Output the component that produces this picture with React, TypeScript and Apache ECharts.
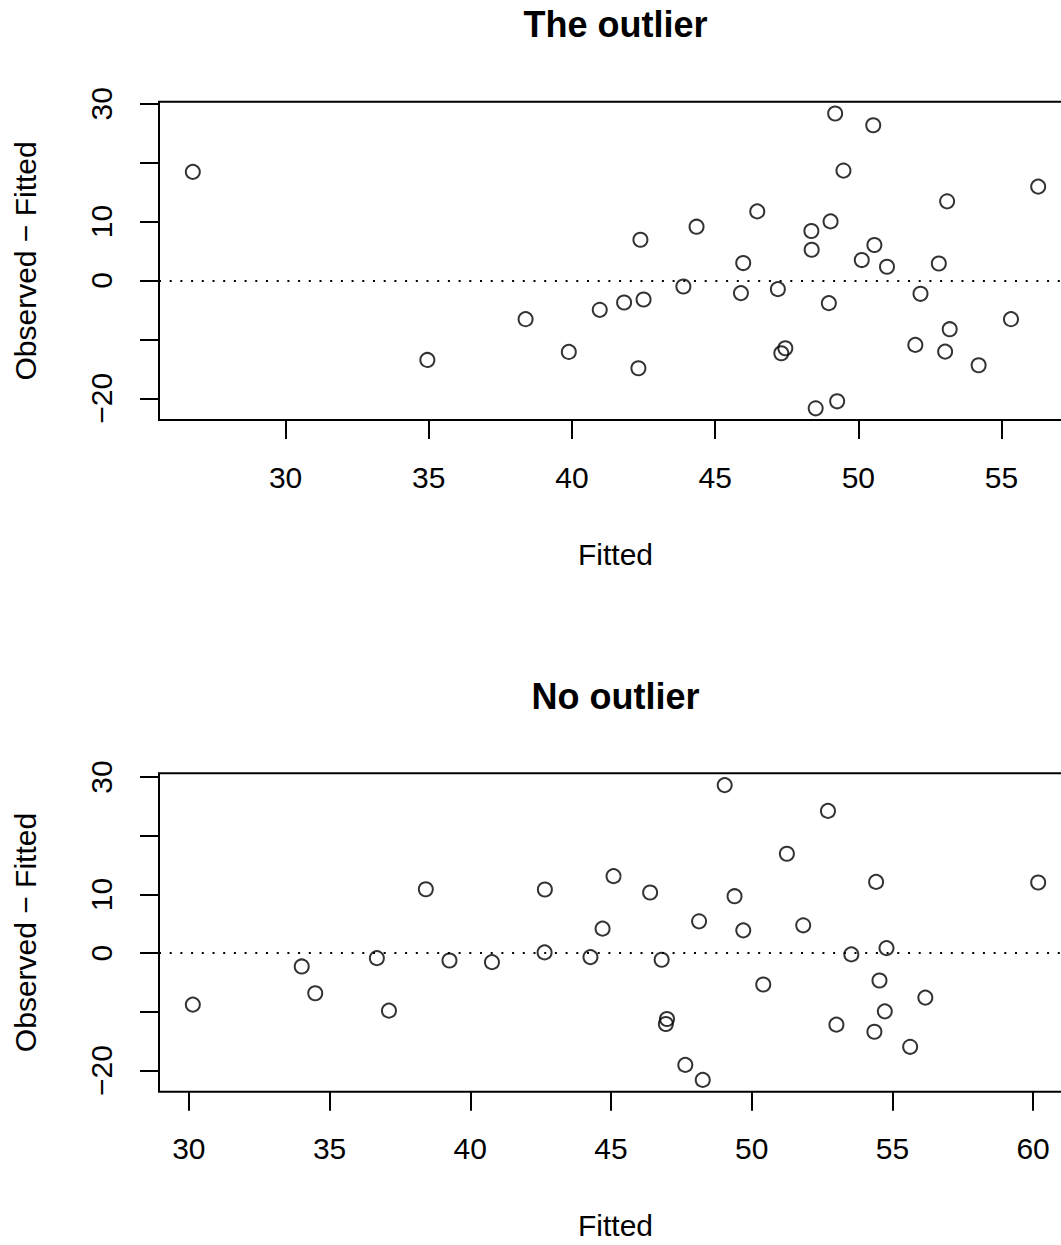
import React, { useEffect, useRef } from "react";
import * as echarts from "echarts";

// Residuals vs fitted values, model fitted with the outlier included
const outlierFitted = [
  26.76, 34.95, 38.38, 39.89, 40.97, 41.82, 42.5, 42.39, 42.32, 43.89, 44.35,
  45.9, 45.98, 46.47, 47.19, 47.31, 47.45, 48.36, 48.37, 48.51, 48.97, 49.03,
  49.19, 49.26, 49.48, 50.12, 50.52, 50.56, 51.0, 51.99, 52.17, 52.81, 53.03,
  53.1, 53.19, 54.2, 55.33, 56.28,
];
const outlierResid = [
  18.44, -13.49, -6.57, -12.13, -4.98, -3.74, -3.23, 6.92, -14.9, -1.02, 9.13,
  -2.14, 2.96, 11.73, -1.47, -12.35, -11.5, 8.4, 5.22, -21.7, -3.85, 10.03,
  28.35, -20.51, 18.66, 3.47, 26.36, 6.02, 2.33, -10.94, -2.26, 2.89, -12.07,
  13.44, -8.27, -14.39, -6.57, 15.94,
];

// Residuals vs fitted values, model refitted without the outlier
const cleanFitted = [
  30.14, 34.01, 34.49, 36.68, 37.11, 38.42, 39.26, 40.77, 42.65, 42.64, 44.27,
  44.7, 45.09, 46.39, 46.8, 46.99, 46.95, 47.64, 48.13, 48.26, 49.04, 49.39,
  49.7, 50.41, 51.25, 51.83, 52.71, 53.01, 53.54, 54.36, 54.42, 54.54, 54.73,
  54.79, 55.63, 56.17, 60.18,
];
const cleanResid = [
  -8.77, -2.27, -6.84, -0.86, -9.8, 10.89, -1.25, -1.54, 10.84, 0.12, -0.68,
  4.17, 13.12, 10.33, -1.13, -11.22, -12.07, -19.04, 5.42, -21.6, 28.63, 9.7,
  3.88, -5.35, 16.93, 4.74, 24.23, -12.19, -0.22, -13.39, 12.14, -4.67, -9.92,
  0.86, -15.96, -7.58, 12.04,
];

const panelTitles = ["The outlier", "No outlier"];
const xTicksTop = [30, 35, 40, 45, 50, 55];
const xTicksBottom = [30, 35, 40, 45, 50, 55, 60];
const yTicks = [-20, -10, 0, 10, 20, 30];
const yTickLabels = [-20, 0, 10, 30];

const FONT = "'Liberation Sans', Arial, Helvetica, sans-serif";
const INK = "#000";

// Base-graphics style limits: data range padded by 4% on each side
function paddedRange(values: number[]): [number, number] {
  const lo = Math.min(...values);
  const hi = Math.max(...values);
  const pad = (hi - lo) * 0.04;
  return [lo - pad, hi + pad];
}

const minus = (v: number) => String(v).replace("-", "\u2212");

const PLOT_LEFT = 159;
const PLOT_WIDTH = 913;
const PLOT_HEIGHT = 318.4;
const PANEL_TOPS = [101.7, 773.3];
const TITLE_Y = [24, 696];

function buildOption() {
  const panels = [
    { x: outlierFitted, y: outlierResid, xTicks: xTicksTop },
    { x: cleanFitted, y: cleanResid, xTicks: xTicksBottom },
  ];

  const grid = panels.map((_, i) => ({
    left: PLOT_LEFT,
    top: PANEL_TOPS[i],
    width: PLOT_WIDTH,
    height: PLOT_HEIGHT,
    show: true,
    borderColor: INK,
    borderWidth: 2,
    backgroundColor: "transparent",
    containLabel: false,
    outerBoundsMode: "none",
  }));

  const xAxis = panels.map((p, i) => {
    const [min, max] = paddedRange(p.x);
    return {
      type: "value",
      gridIndex: i,
      min,
      max,
      position: "bottom",
      axisLine: { show: false, onZero: false },
      splitLine: { show: false },
      axisTick: {
        show: true,
        inside: false,
        length: 19,
        customValues: p.xTicks,
        lineStyle: { color: INK, width: 2 },
      },
      axisLabel: {
        show: true,
        customValues: p.xTicks,
        margin: 42,
        fontSize: 30,
        color: INK,
        fontFamily: FONT,
        formatter: minus,
      },
      name: "Fitted",
      nameLocation: "middle",
      nameGap: 119,
      nameTextStyle: { fontSize: 30, color: INK, fontFamily: FONT },
    };
  });

  const yAxis = panels.map((p, i) => {
    const [min, max] = paddedRange(p.y);
    return {
      type: "value",
      gridIndex: i,
      min,
      max,
      position: "left",
      axisLine: { show: false, onZero: false },
      splitLine: { show: false },
      axisTick: {
        show: true,
        inside: false,
        length: 19,
        customValues: yTicks,
        lineStyle: { color: INK, width: 2 },
      },
      axisLabel: {
        show: true,
        customValues: yTickLabels,
        rotate: 90,
        margin: 43,
        fontSize: 30,
        color: INK,
        fontFamily: FONT,
        formatter: minus,
      },
      name: "Observed \u2212 Fitted",
      nameLocation: "middle",
      nameRotate: 90,
      nameGap: 119,
      nameTextStyle: { fontSize: 30, color: INK, fontFamily: FONT },
    };
  });

  const series = panels.map((p, i) => ({
    type: "scatter",
    xAxisIndex: i,
    yAxisIndex: i,
    data: p.x.map((v, k) => [v, p.y[k]]),
    symbol: "circle",
    symbolSize: 14,
    itemStyle: { color: "transparent", borderColor: INK, borderWidth: 2 },
    emphasis: { disabled: true },
    silent: true,
    markLine: {
      silent: true,
      symbol: "none",
      label: { show: false },
      lineStyle: { type: [2, 8.7], width: 2, color: INK },
      emphasis: { disabled: true },
      data: [{ yAxis: 0 }],
    },
  }));

  const graphic = panelTitles.map((t, i) => ({
    type: "text",
    x: PLOT_LEFT + PLOT_WIDTH / 2,
    y: TITLE_Y[i],
    style: {
      text: t,
      fontSize: 36,
      fontWeight: "bold",
      fontFamily: FONT,
      fill: INK,
      align: "center",
      verticalAlign: "middle",
    },
  }));

  return {
    animation: false,
    backgroundColor: "#fff",
    grid,
    xAxis,
    yAxis,
    series,
    graphic,
  };
}

export default function App() {
  const ref = useRef<HTMLDivElement>(null);

  useEffect(() => {
    if (!ref.current) return;
    const chart = echarts.init(ref.current, null, { renderer: "svg" });
    chart.setOption(buildOption() as any);
    return () => chart.dispose();
  }, []);

  return (
    <div
      style={{
        position: "absolute",
        left: 0,
        top: 0,
        width: 1061,
        height: 1245,
        overflow: "hidden",
        background: "#fff",
      }}
    >
      <div ref={ref} style={{ width: 1061, height: 1245 }} />
    </div>
  );
}
